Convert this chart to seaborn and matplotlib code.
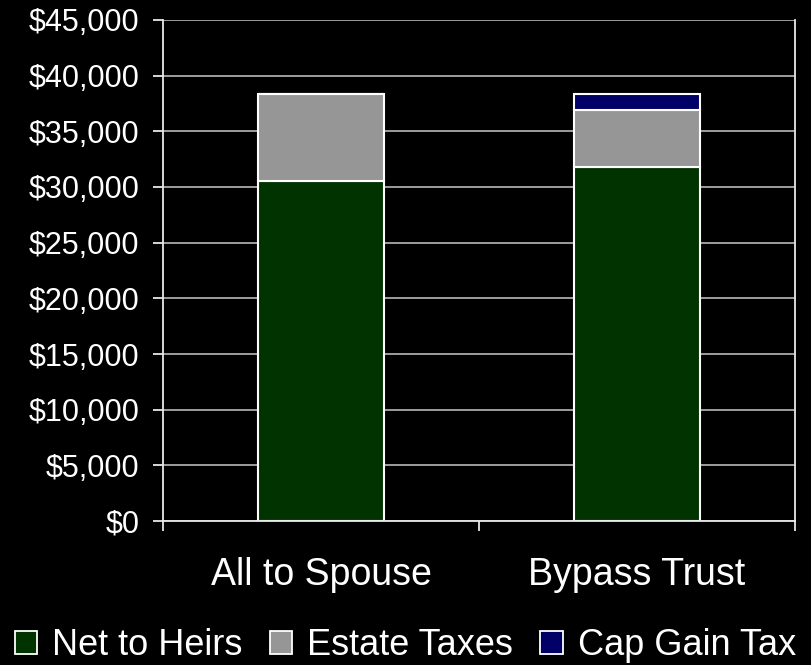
import matplotlib
matplotlib.use("Agg")
import matplotlib.pyplot as plt
from matplotlib.patches import Patch
from matplotlib.ticker import FuncFormatter, MultipleLocator
import numpy as np
import pandas as pd
import seaborn as sns

# Estate outcome per strategy (dollars)
strategies = ["All to Spouse", "Bypass Trust"]
net_to_heirs = [30500, 31800]
estate_taxes = [7850, 5100]
cap_gain_tax = [0, 1450]

series_names = ["Net to Heirs", "Estate Taxes", "Cap Gain Tax"]
series_colors = ["#003300", "#969696", "#000066"]

sns.set_theme(style="white")
plt.rcParams["font.family"] = ["Liberation Sans", "DejaVu Sans"]

fig = plt.figure(figsize=(8.11, 6.65), dpi=100, facecolor="black")
ax = fig.add_axes([0.201, 0.2165, 0.779, 0.7535])
ax.set_facecolor("black")

df = pd.DataFrame({"strategy": strategies,
                   "Net to Heirs": net_to_heirs,
                   "Estate Taxes": estate_taxes,
                   "Cap Gain Tax": cap_gain_tax})

# stacked bars: each series sits on the running total of the ones below
bottom = np.zeros(len(strategies))
for name, color in zip(series_names, series_colors):
    vals = df[name].to_numpy(dtype=float)
    sns.barplot(data=df, x="strategy", y=name, color=color, width=0.4,
                bottom=bottom, edgecolor="white", linewidth=1.5,
                saturation=1, ax=ax, errorbar=None)
    bottom = bottom + vals

ax.set_ylim(0, 45000)
ax.set_xlim(-0.5, 1.5)
ax.yaxis.set_major_locator(MultipleLocator(5000))
ax.yaxis.set_major_formatter(FuncFormatter(lambda v, p: f"${v:,.0f}"))
ax.set_xticks([-0.5, 0.5, 1.5], minor=False)
ax.set_xticklabels([])
ax.set_xticks([0, 1], minor=True)
ax.set_xticklabels(strategies, minor=True)
ax.set_xlabel("")
ax.set_ylabel("")

ax.grid(axis="y", color="#c8c8c8", linewidth=1.1)
ax.set_axisbelow(True)

for side in ["left", "bottom", "right"]:
    ax.spines[side].set_visible(True)
    ax.spines[side].set_color("#e8e8e8")
    ax.spines[side].set_linewidth(1.3)
ax.spines["top"].set_visible(False)

ax.tick_params(axis="y", which="major", colors="#e8e8e8", labelcolor="white",
               length=7, width=1.3, labelsize=22, pad=10, left=True)
ax.tick_params(axis="x", which="major", colors="#e8e8e8", length=7, width=1.3,
               bottom=True)
ax.tick_params(axis="x", which="minor", length=0, labelsize=27,
               labelcolor="white", pad=26)

handles = [Patch(facecolor=c, edgecolor="white", linewidth=1.3, label=n)
           for n, c in zip(series_names, series_colors)]
leg = fig.legend(handles=handles, loc="lower center", bbox_to_anchor=(0.5, -0.03),
                 ncol=3, frameon=False, fontsize=26, handlelength=0.62,
                 handleheight=0.62, handletextpad=0.42, columnspacing=0.75,
                 borderaxespad=0.2)
for t in leg.get_texts():
    t.set_color("white")

fig.savefig("out.png", dpi=100, facecolor="black")
